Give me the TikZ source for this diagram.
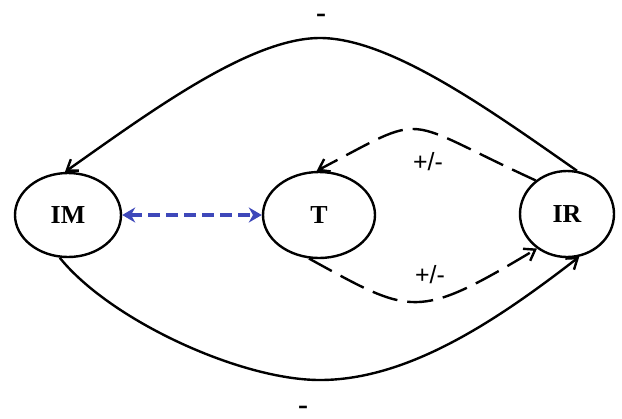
\documentclass[tikz,border=0pt]{standalone}
\usepackage{fontspec}
\setmainfont{Liberation Serif}
\newfontfamily\signfont{Liberation Sans}
\usetikzlibrary{arrows.meta,shapes.geometric}
\definecolor{linkblue}{RGB}{62,72,186}
\tikzset{
  statenode/.style={ellipse,draw,line width=2.4bp,inner sep=0pt,
    font=\fontsize{26}{28}\selectfont\bfseries},
  signlabel/.style={font=\signfont\fontsize{25}{27}\selectfont},
  minuslabel/.style={inner sep=0pt,text height=0.3em,text depth=0pt,
    font=\fontsize{30}{32}\selectfont\bfseries},
  barb/.style={-{Straight Barb[length=10bp,width=14bp,line width=2.4bp]}},
}
\begin{document}
\begin{tikzpicture}[x=1bp,y=-1bp]%
% loops between IM, T and IR
\ifx\cyclw\undefined\newdimen\cyclw\fi
\global\def\cycdraw{\draw[line width=\cyclw]}
\global\def\cycdash{\draw[line width=\cyclw,dash pattern=on 26bp off 10bp]}
\cyclw=2.4bp
\useasboundingbox (0,0) rectangle (622,418);
\node[statenode,minimum width=106bp,minimum height=84bp] (IM) at (68,215) {IM};
\node[statenode,minimum width=112bp,minimum height=86bp] (T) at (319,215) {T};
\node[statenode,minimum width=94bp,minimum height=86bp] (IR) at (567,214) {IR};
% outer loop, top
\cycdraw[barb] (IR.77)
 ..controls (490,110) and (390,38)
 ..(320,38)
 ..controls (250,38) and (150,112)
 ..(IM.94);
\node[minuslabel] (mtop) at (321,21) {-};
% outer loop, bottom
\cycdraw[barb] (IM.259)
 ..controls (110,320) and (240,380)
 ..(320,380)
 ..controls (410,380) and (500,318)
 ..(IR.286);
\node[minuslabel] (mbot) at (303,413) {-};
% inner loop
\cycdash[barb] (IR.133)
 ..controls (397,117) and (431,111)
 ..(T.93);
\node[signlabel] (ptop) at (428,162) {+/-};
\cycdash[barb] (T.257)
 ..controls (412,315) and (416,321)
 ..(IR.229);
\node[signlabel] (pbot) at (430,275) {+/-};
% link IM -- T
\draw[linkblue,line width=4bp,dash pattern=on 12bp off 6bp,
  {Stealth[length=13bp,width=15bp]}-{Stealth[length=13bp,width=15bp]}]
  (IM.east) -- (T.west);
\end{tikzpicture}
\end{document}
